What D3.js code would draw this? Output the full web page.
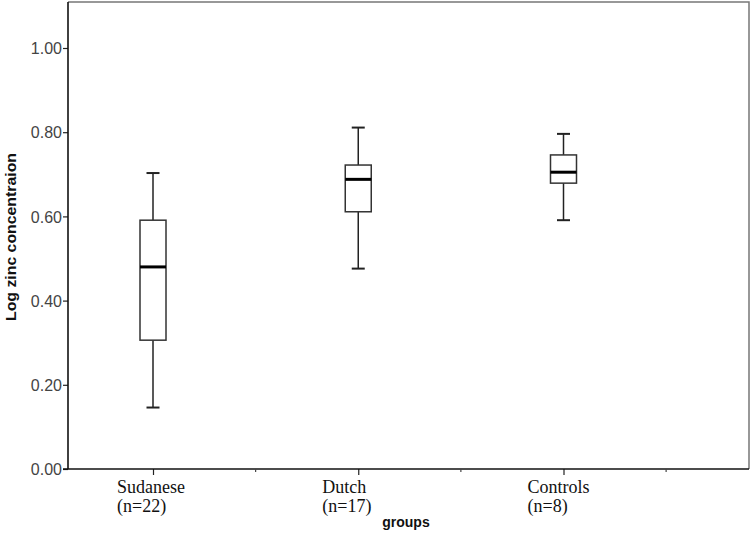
<!DOCTYPE html>
<html>
<head>
<meta charset="utf-8">
<script src="https://cdn.jsdelivr.net/npm/d3@7"></script>
<style>
  html, body { margin: 0; padding: 0; background: #fff; }
  svg { display: block; }
</style>
</head>
<body>
<svg id="chart" width="752" height="534"></svg>
<script>
// ---- data ----
const categories = ["Sudanese", "Dutch", "Controls"];
const nLabels = ["(n=22)", "(n=17)", "(n=8)"];
const whiskerLow = [0.146, 0.476, 0.591];
const q1 = [0.306, 0.611, 0.679];
const median = [0.480, 0.688, 0.705];
const q3 = [0.591, 0.722, 0.746];
const whiskerHigh = [0.703, 0.811, 0.796];
const yTicks = [0, 0.2, 0.4, 0.6, 0.8, 1.0];

// ---- layout ----
const plot = { left: 68, right: 749, top: 2, bottom: 469 };
const svg = d3.select("#chart");

const y = d3.scaleLinear().domain([0, 1]).range([469, 48]);
const x = d3.scalePoint().domain(categories).range([153, 563.5]);
const step = x.step();

// frame top/right (gray)
svg.append("path")
  .attr("d", `M${plot.left},${plot.top}H${plot.right}V${plot.bottom}`)
  .attr("fill", "none").attr("stroke", "#777").attr("stroke-width", 1.5);

// y axis
const yAxis = d3.axisLeft(y).tickValues(yTicks).tickFormat(d3.format(".2f")).tickSize(5).tickSizeOuter(0);
const gy = svg.append("g").attr("transform", `translate(${plot.left},0)`).call(yAxis);
gy.select(".domain").remove();
gy.selectAll(".tick line").attr("stroke", "#222").attr("stroke-width", 1.2);
gy.selectAll(".tick text")
  .attr("x", -6).attr("dy", "0.36em")
  .attr("fill", "#444")
  .style("font-family", "'Liberation Sans', Arial, sans-serif")
  .style("font-size", "16px");
svg.append("line")
  .attr("x1", plot.left).attr("x2", plot.left)
  .attr("y1", plot.top).attr("y2", plot.bottom)
  .attr("stroke", "#111").attr("stroke-width", 1.6);

// x axis
const xAxis = d3.axisBottom(x).tickSize(6).tickSizeOuter(0).tickFormat("");
const gx = svg.append("g").attr("transform", `translate(0,${plot.bottom})`).call(xAxis);
gx.select(".domain").remove();
gx.selectAll(".tick line").attr("stroke", "#222").attr("stroke-width", 1.2);
svg.append("line")
  .attr("x1", plot.left - 5).attr("x2", plot.right)
  .attr("y1", plot.bottom).attr("y2", plot.bottom)
  .attr("stroke", "#111").attr("stroke-width", 1.6);
// minor ticks between categories
svg.selectAll(".minor").data(categories).enter().append("line")
  .attr("x1", d => x(d) + step / 2).attr("x2", d => x(d) + step / 2)
  .attr("y1", plot.bottom).attr("y2", plot.bottom + 3)
  .attr("stroke", "#444").attr("stroke-width", 1.2);

// category labels
const lab = svg.selectAll(".catlab").data(categories).enter().append("text")
  .attr("x", d => x(d) - 36)
  .attr("y", 493)
  .attr("fill", "#111")
  .style("font-family", "'Liberation Serif', 'Times New Roman', serif")
  .style("font-size", "18px");
lab.append("tspan").text(d => d);
lab.append("tspan").attr("x", d => x(d) - 36).attr("dy", 19).text((d, i) => nLabels[i]);

// axis titles
svg.append("text")
  .attr("x", 406).attr("y", 527)
  .attr("text-anchor", "middle")
  .attr("fill", "#111")
  .style("font-family", "'Liberation Sans', Arial, sans-serif")
  .style("font-weight", "bold")
  .style("font-size", "14px")
  .text("groups");
svg.append("text")
  .attr("transform", "translate(16,237) rotate(-90)")
  .attr("text-anchor", "middle")
  .attr("fill", "#111")
  .attr("textLength", 168)
  .attr("lengthAdjust", "spacingAndGlyphs")
  .style("font-family", "'Liberation Sans', Arial, sans-serif")
  .style("font-weight", "bold")
  .style("font-size", "14.5px")
  .text("Log zinc concentraion");

// boxes
const boxW = 26, capW = 13;
const g = svg.selectAll(".box").data(categories).enter().append("g");
g.append("line")
  .attr("x1", d => x(d)).attr("x2", d => x(d))
  .attr("y1", (d, i) => y(whiskerHigh[i])).attr("y2", (d, i) => y(q3[i]))
  .attr("stroke", "#222").attr("stroke-width", 1.5);
g.append("line")
  .attr("x1", d => x(d)).attr("x2", d => x(d))
  .attr("y1", (d, i) => y(q1[i])).attr("y2", (d, i) => y(whiskerLow[i]))
  .attr("stroke", "#222").attr("stroke-width", 1.5);
g.append("line")
  .attr("x1", d => x(d) - capW / 2).attr("x2", d => x(d) + capW / 2)
  .attr("y1", (d, i) => y(whiskerHigh[i])).attr("y2", (d, i) => y(whiskerHigh[i]))
  .attr("stroke", "#222").attr("stroke-width", 2);
g.append("line")
  .attr("x1", d => x(d) - capW / 2).attr("x2", d => x(d) + capW / 2)
  .attr("y1", (d, i) => y(whiskerLow[i])).attr("y2", (d, i) => y(whiskerLow[i]))
  .attr("stroke", "#222").attr("stroke-width", 2);
g.append("rect")
  .attr("x", d => x(d) - boxW / 2).attr("width", boxW)
  .attr("y", (d, i) => y(q3[i])).attr("height", (d, i) => y(q1[i]) - y(q3[i]))
  .attr("fill", "#fff").attr("stroke", "#333").attr("stroke-width", 1.5);
g.append("line")
  .attr("x1", d => x(d) - boxW / 2).attr("x2", d => x(d) + boxW / 2)
  .attr("y1", (d, i) => y(median[i])).attr("y2", (d, i) => y(median[i]))
  .attr("stroke", "#000").attr("stroke-width", 3);
</script>
</body>
</html>
